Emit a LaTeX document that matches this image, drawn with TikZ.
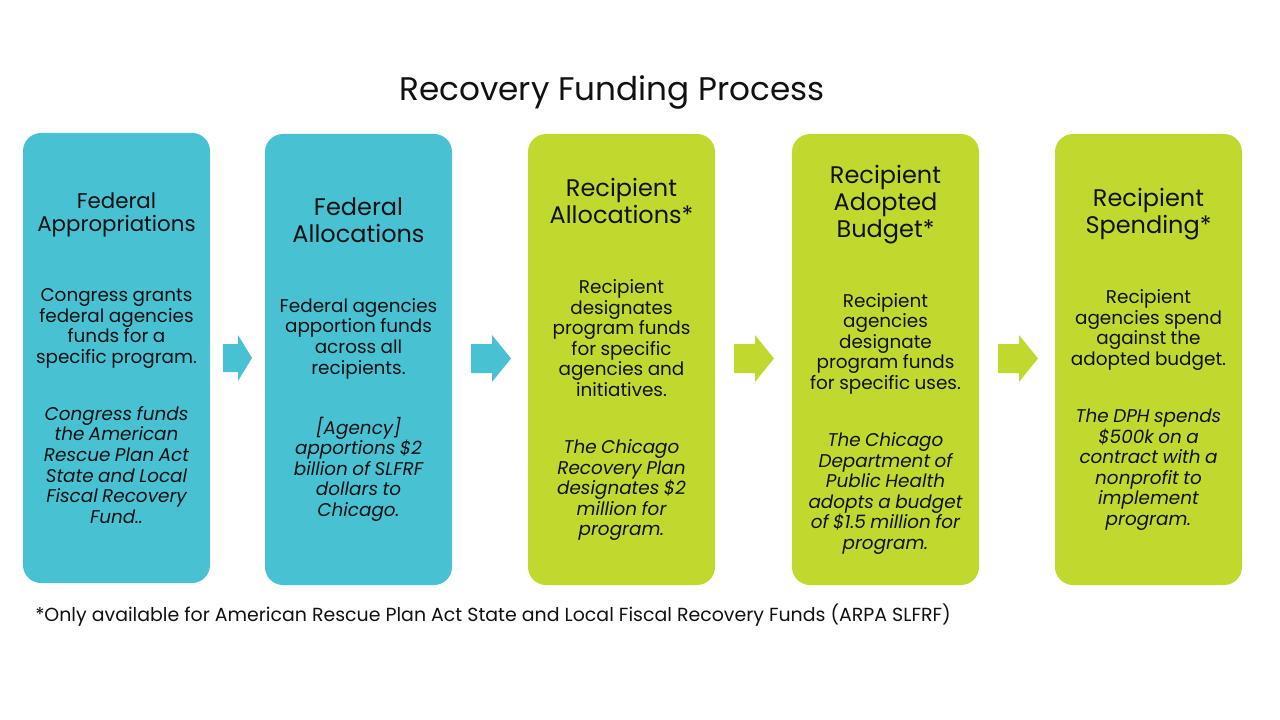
\documentclass[tikz,border=0pt]{standalone}
\usepackage{fontspec}
\setmainfont{Poppins}
\definecolor{tealbox}{HTML}{48C2D3}
\definecolor{limebox}{HTML}{C1D92E}
\definecolor{ink}{HTML}{111111}
\newcommand{\hfnt}{\fontsize{18}{20.25}\selectfont}
\newcommand{\hfntsm}{\fontsize{16}{17.25}\selectfont}
\newcommand{\bfnt}{\fontsize{13.8}{15.4}\selectfont}
\newcommand{\ifnt}{\fontsize{13.8}{15.4}\selectfont\itshape}
\tikzset{
  stepbox/.style={rounded corners=13.5pt, minimum width=140.25pt, minimum height=337.5pt, draw=none, inner sep=0pt},
  boxtext/.style={text width=150pt, align=center, inner sep=0pt, text=ink},
  blockarrow/.style={draw=none}
}
\begin{document}
\begin{tikzpicture}[x=0.75pt,y=-0.75pt]
\useasboundingbox (0,0) rectangle (1280,720);
\fill[white] (0,0) rectangle (1280,720);

\node[text=ink, font=\fontsize{24.5}{28}\selectfont] (title) at (612,92) {Recovery Funding Process};

% boxes
\node[stepbox, fill=tealbox] (b1) at (116.5,358) {};
\node[stepbox, fill=tealbox, minimum height=338.25pt] (b2) at (358.5,359.5) {};
\node[stepbox, fill=limebox, minimum height=338.25pt] (b3) at (621.5,359.5) {};
\node[stepbox, fill=limebox, minimum height=338.25pt] (b4) at (885.5,359.5) {};
\node[stepbox, fill=limebox, minimum height=338.25pt] (b5) at (1148.5,359.5) {};

% texts
\node[boxtext] (t1) at (b1.center) {%
{\hfntsm Federal\\Appropriations\par}\vspace{37.1pt}%
{\bfnt Congress grants\\federal agencies\\funds for a\\specific program.\par}\vspace{27.6pt}%
{\ifnt Congress funds\\the American\\Rescue Plan Act\\State and Local\\Fiscal Recovery\\Fund..\par}};

\node[boxtext] (t2) at (b2.center) {%
{\hfnt Federal\\Allocations\par}\vspace{37.1pt}%
{\bfnt Federal agencies\\apportion funds\\across all\\recipients.\par}\vspace{27.6pt}%
{\ifnt [Agency]\\apportions \$2\\billion of SLFRF\\dollars to\\Chicago.\par}};

\node[boxtext] (t3) at (b3.center) {%
{\hfnt Recipient\\Allocations*\par}\vspace{37.1pt}%
{\bfnt Recipient\\designates\\program funds\\for specific\\agencies and\\initiatives.\par}\vspace{27.6pt}%
{\ifnt The Chicago\\Recovery Plan\\designates \$2\\million for\\program.\par}};

\node[boxtext] (t4) at (b4.center) {%
{\hfnt Recipient\\Adopted\\Budget*\par}\vspace{37.1pt}%
{\bfnt Recipient\\agencies\\designate\\program funds\\for specific uses.\par}\vspace{27.6pt}%
{\ifnt The Chicago\\Department of\\Public Health\\adopts a budget\\of \$1.5 million for\\program.\par}};

\node[boxtext] (t5) at (b5.center) {%
{\hfnt Recipient\\Spending*\par}\vspace{37.1pt}%
{\bfnt Recipient\\agencies spend\\against the\\adopted budget.\par}\vspace{27.6pt}%
{\ifnt The DPH spends\\\$500k on a\\contract with a\\nonprofit to\\implement\\program.\par}};

% block arrows
\fill[tealbox] (223,344) -- (238,344) -- (238,335) -- (252,358) -- (238,381) -- (238,372) -- (223,372) -- cycle;
\fill[tealbox] (471,344) -- (492,344) -- (492,335) -- (511,358.5) -- (492,382) -- (492,373) -- (471,373) -- cycle;
\fill[limebox] (734,344) -- (755,344) -- (755,335) -- (774,358.5) -- (755,382) -- (755,373) -- (734,373) -- cycle;
\fill[limebox] (998,344) -- (1019,344) -- (1019,335) -- (1038,358.5) -- (1019,382) -- (1019,373) -- (998,373) -- cycle;

\node[anchor=west, text=ink, font=\fontsize{14.2}{16}\selectfont, inner sep=0pt] (foot) at (35,615) {*Only available for American Rescue Plan Act State and Local Fiscal Recovery Funds (ARPA SLFRF)};
\end{tikzpicture}
\end{document}
